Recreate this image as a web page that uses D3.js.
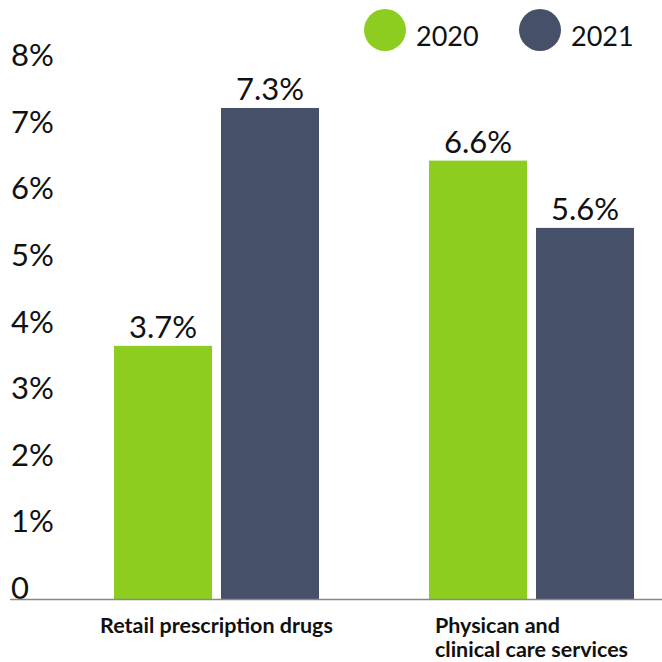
<!DOCTYPE html>
<html>
<head>
<meta charset="utf-8">
<script src="https://cdn.jsdelivr.net/npm/d3@7"></script>
<style>
  html, body { margin: 0; padding: 0; background: #fff; }
  svg { display: block; font-family: Lato, "Open Sans", sans-serif; }
</style>
</head>
<body>
<svg id="chart"></svg>
<script>
// Data
const categories = ["Retail prescription drugs", "Physican and clinical care services"];
const categoryLines = [["Retail prescription drugs"], ["Physican and", "clinical care services"]];
const series = ["2020", "2021"];
const values2020 = [3.8, 6.58];
const values2021 = [7.37, 5.57];
const labels2020 = ["3.7%", "6.6%"];
const labels2021 = ["7.3%", "5.6%"];
const yTicks = [0, 1, 2, 3, 4, 5, 6, 7, 8];

const colors = { "2020": "#8ccd20", "2021": "#465068" };

const width = 662, height = 662;
const svg = d3.select("#chart").attr("width", width).attr("height", height);

const y = d3.scaleLinear().domain([0, 8]).range([599, 66]);
const x0 = d3.scalePoint().domain(categories).range([216.5, 531.5]);
const x1 = d3.scaleBand().domain(series).range([-102.5, 102.5]).paddingInner(0.084).paddingOuter(0);

const rows = categories.map((c, i) => ({
  category: c,
  bars: [
    { key: "2020", value: values2020[i], label: labels2020[i] },
    { key: "2021", value: values2021[i], label: labels2021[i] }
  ]
}));

// y tick labels (baseline sits on the tick value)
svg.append("g")
  .selectAll("text")
  .data(yTicks)
  .join("text")
  .attr("x", 11)
  .attr("y", d => y(d))
  .attr("font-size", "31px")
  .attr("fill", "#111")
  .text(d => d === 0 ? "0" : d + "%");

// bars
const group = svg.append("g")
  .selectAll("g")
  .data(rows)
  .join("g")
  .attr("transform", d => `translate(${x0(d.category)},0)`);

group.selectAll("rect")
  .data(d => d.bars)
  .join("rect")
  .attr("x", d => x1(d.key))
  .attr("y", d => y(d.value))
  .attr("width", x1.bandwidth())
  .attr("height", d => y(0) - y(d.value))
  .attr("fill", d => colors[d.key]);

group.selectAll("text.value")
  .data(d => d.bars)
  .join("text")
  .attr("class", "value")
  .attr("x", d => x1(d.key) + x1.bandwidth() / 2)
  .attr("y", d => y(d.value) - 8)
  .attr("text-anchor", "middle")
  .attr("font-size", "31px")
  .attr("fill", "#111")
  .text(d => d.label);

// baseline
svg.append("line")
  .attr("x1", 10).attr("x2", width)
  .attr("y1", y(0) + 0.5).attr("y2", y(0) + 0.5)
  .attr("stroke", "#888")
  .attr("stroke-width", 1.5);

// category labels: block centred under the group, lines left-aligned
const catLabel = svg.append("g")
  .selectAll("text")
  .data(categories)
  .join("text")
  .attr("y", 633)
  .attr("font-size", "21.5px")
  .attr("font-weight", "bold")
  .attr("fill", "#111");

catLabel.each(function(c, i) {
  const t = d3.select(this);
  categoryLines[i].forEach((line, j) => {
    t.append("tspan").attr("x", 0).attr("dy", j === 0 ? 0 : 24).text(line);
  });
  const w = this.getBBox().width;
  t.selectAll("tspan").attr("x", x0(c) - w / 2);
});

// legend
const legend = svg.append("g")
  .selectAll("g")
  .data(series)
  .join("g")
  .attr("transform", (d, i) => `translate(${385 + i * 155},30)`);

legend.append("circle")
  .attr("r", 21)
  .attr("fill", d => colors[d]);

legend.append("text")
  .attr("x", 31)
  .attr("y", 16)
  .attr("font-size", "27px")
  .attr("fill", "#111")
  .text(d => d);
</script>
</body>
</html>
